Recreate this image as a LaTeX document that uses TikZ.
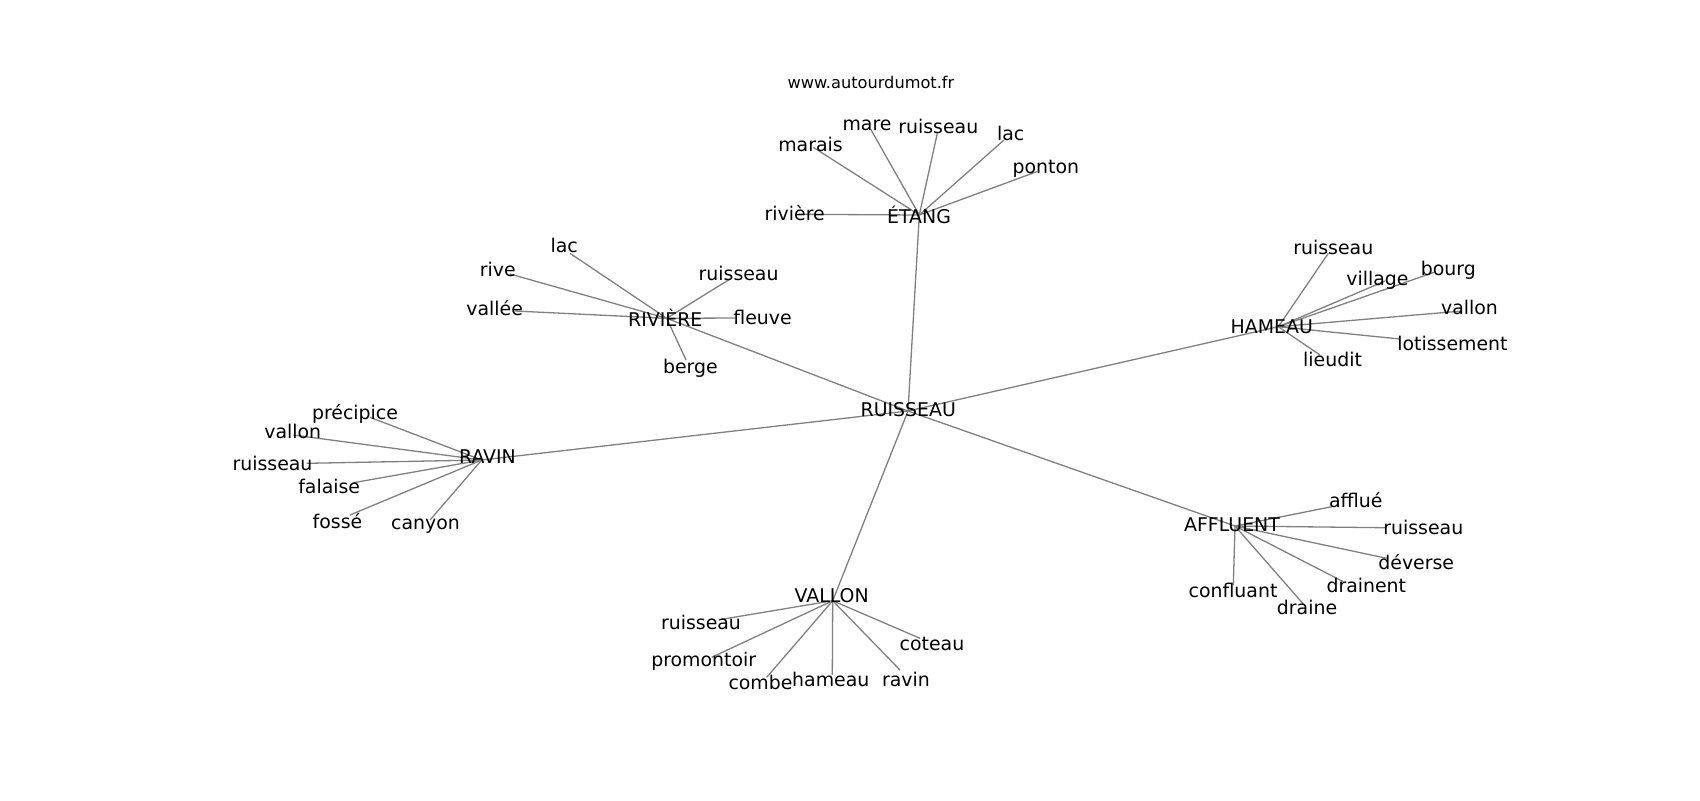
\documentclass[tikz,border=0pt]{standalone}
\usepackage{fontspec}
\setmainfont{DejaVu Sans}
\begin{document}
\begin{tikzpicture}[x=0.5pt,y=-0.5pt,
  edge/.style={draw=black!50,line width=0.65pt},
  lbl/.style={anchor=base,inner sep=0pt,text=black,font=\fontsize{9.45}{11}\selectfont},
  ttl/.style={anchor=base,inner sep=0pt,text=black,font=\fontsize{8.1}{10}\selectfont}]
\useasboundingbox (0,0) rectangle (1700,800);
\node[ttl] (title) at (871,88.3) {www.autourdumot.fr};
% hub points
\coordinate (ruisseau) at (908,411);
\coordinate (etang) at (919.3,215);
\coordinate (riviere) at (666.7,318.3);
\coordinate (hameau) at (1278.3,326.7);
\coordinate (ravin) at (481.7,460);
\coordinate (affluent) at (1235,526);
\coordinate (vallon) at (832.7,600.7);
% leaf end points
\coordinate (e1) at (870.7,129.3);
\coordinate (e2) at (937.3,133.3);
\coordinate (e3) at (1004,140);
\coordinate (e4) at (813.3,147.3);
\coordinate (e5) at (798.3,214.3);
\coordinate (e6) at (1036.7,171.7);
\coordinate (r1) at (570,253.3);
\coordinate (r2) at (510,274);
\coordinate (r3) at (515,311);
\coordinate (r4) at (730,279);
\coordinate (r5) at (735,318);
\coordinate (r6) at (686,360);
\coordinate (h1) at (1328.3,253.3);
\coordinate (h2) at (1385,281);
\coordinate (h3) at (1435,272);
\coordinate (h4) at (1462,311);
\coordinate (h5) at (1400,339);
\coordinate (h6) at (1320,355);
\coordinate (v1) at (370,417.3);
\coordinate (v2) at (293.3,435);
\coordinate (v3) at (306.7,463.3);
\coordinate (v4) at (353.3,482.7);
\coordinate (v5) at (350,515);
\coordinate (v6) at (430,520);
\coordinate (a1) at (1331.7,506.7);
\coordinate (a2) at (1385,527.7);
\coordinate (a3) at (1386.7,558.3);
\coordinate (a4) at (1343.3,581.7);
\coordinate (a5) at (1303.3,604);
\coordinate (a6) at (1233.3,585);
\coordinate (l1) at (721.7,619.3);
\coordinate (l2) at (711.7,657.3);
\coordinate (l3) at (766.7,677.3);
\coordinate (l4) at (832.3,675);
\coordinate (l5) at (900,670);
\coordinate (l6) at (920,638.3);
% edges
\foreach \h in {etang,riviere,hameau,ravin,affluent,vallon} \draw[edge] (ruisseau) -- (\h);
\foreach \p in {e1,e2,e3,e4,e5,e6} \draw[edge] (etang) -- (\p);
\foreach \p in {r1,r2,r3,r4,r5,r6} \draw[edge] (riviere) -- (\p);
\foreach \p in {h1,h2,h3,h4,h5,h6} \draw[edge] (hameau) -- (\p);
\foreach \p in {v1,v2,v3,v4,v5,v6} \draw[edge] (ravin) -- (\p);
\foreach \p in {a1,a2,a3,a4,a5,a6} \draw[edge] (affluent) -- (\p);
\foreach \p in {l1,l2,l3,l4,l5,l6} \draw[edge] (vallon) -- (\p);
% hub labels
\node[lbl] (t-ruisseau) at (908.3,416.7) {RUISSEAU};
\node[lbl] (t-etang) at (919,223.3) {ÉTANG};
\node[lbl] (t-riviere) at (665.3,326) {RIVIÈRE};
\node[lbl] (t-hameau) at (1271.8,333.3) {HAMEAU};
\node[lbl] (t-ravin) at (487.5,463) {RAVIN};
\node[lbl] (t-affluent) at (1232,531.7) {AFFLUENT};
\node[lbl] (t-vallon) at (831.7,602.7) {VALLON};
% ETANG leaves
\node[lbl] (t-e1) at (867,130) {mare};
\node[lbl] (t-e2) at (938.3,133.3) {ruisseau};
\node[lbl] (t-e3) at (1010.7,140) {lac};
\node[lbl] (t-e4) at (810.5,151.7) {marais};
\node[lbl] (t-e5) at (794.7,220.7) {rivière};
\node[lbl] (t-e6) at (1045.8,173.3) {ponton};
% RIVIERE leaves
\node[lbl] (t-r1) at (564.2,252.7) {lac};
\node[lbl] (t-r2) at (497.8,276) {rive};
\node[lbl] (t-r3) at (494.7,315) {vallée};
\node[lbl] (t-r4) at (738.6,280) {ruisseau};
\node[lbl] (t-r5) at (762.5,324) {fleuve};
\node[lbl] (t-r6) at (690.4,373.5) {berge};
% HAMEAU leaves
\node[lbl] (t-h1) at (1333.3,254) {ruisseau};
\node[lbl] (t-h2) at (1377.5,285) {village};
\node[lbl] (t-h3) at (1448.3,275) {bourg};
\node[lbl] (t-h4) at (1469.5,314) {vallon};
\node[lbl] (t-h5) at (1452.5,350) {lotissement};
\node[lbl] (t-h6) at (1332.5,366) {lieudit};
% RAVIN leaves
\node[lbl] (t-v1) at (355,419.3) {précipice};
\node[lbl] (t-v2) at (292.8,438.3) {vallon};
\node[lbl] (t-v3) at (272.5,470) {ruisseau};
\node[lbl] (t-v4) at (329.2,493.3) {falaise};
\node[lbl] (t-v5) at (337.5,528.3) {fossé};
\node[lbl] (t-v6) at (425.5,529.3) {canyon};
% AFFLUENT leaves
\node[lbl] (t-a1) at (1355.8,507.3) {afflué};
\node[lbl] (t-a2) at (1423.3,534) {ruisseau};
\node[lbl] (t-a3) at (1416.2,569.3) {déverse};
\node[lbl] (t-a4) at (1366.3,592.3) {drainent};
\node[lbl] (t-a5) at (1307,614) {draine};
\node[lbl] (t-a6) at (1233,597.3) {confluant};
% VALLON leaves
\node[lbl] (t-l1) at (701,629.3) {ruisseau};
\node[lbl] (t-l2) at (703.7,666.7) {promontoir};
\node[lbl] (t-l3) at (760.5,689.3) {combe};
\node[lbl] (t-l4) at (830.8,686.7) {hameau};
\node[lbl] (t-l5) at (906,686) {ravin};
\node[lbl] (t-l6) at (932,650) {coteau};
\end{tikzpicture}
\end{document}
